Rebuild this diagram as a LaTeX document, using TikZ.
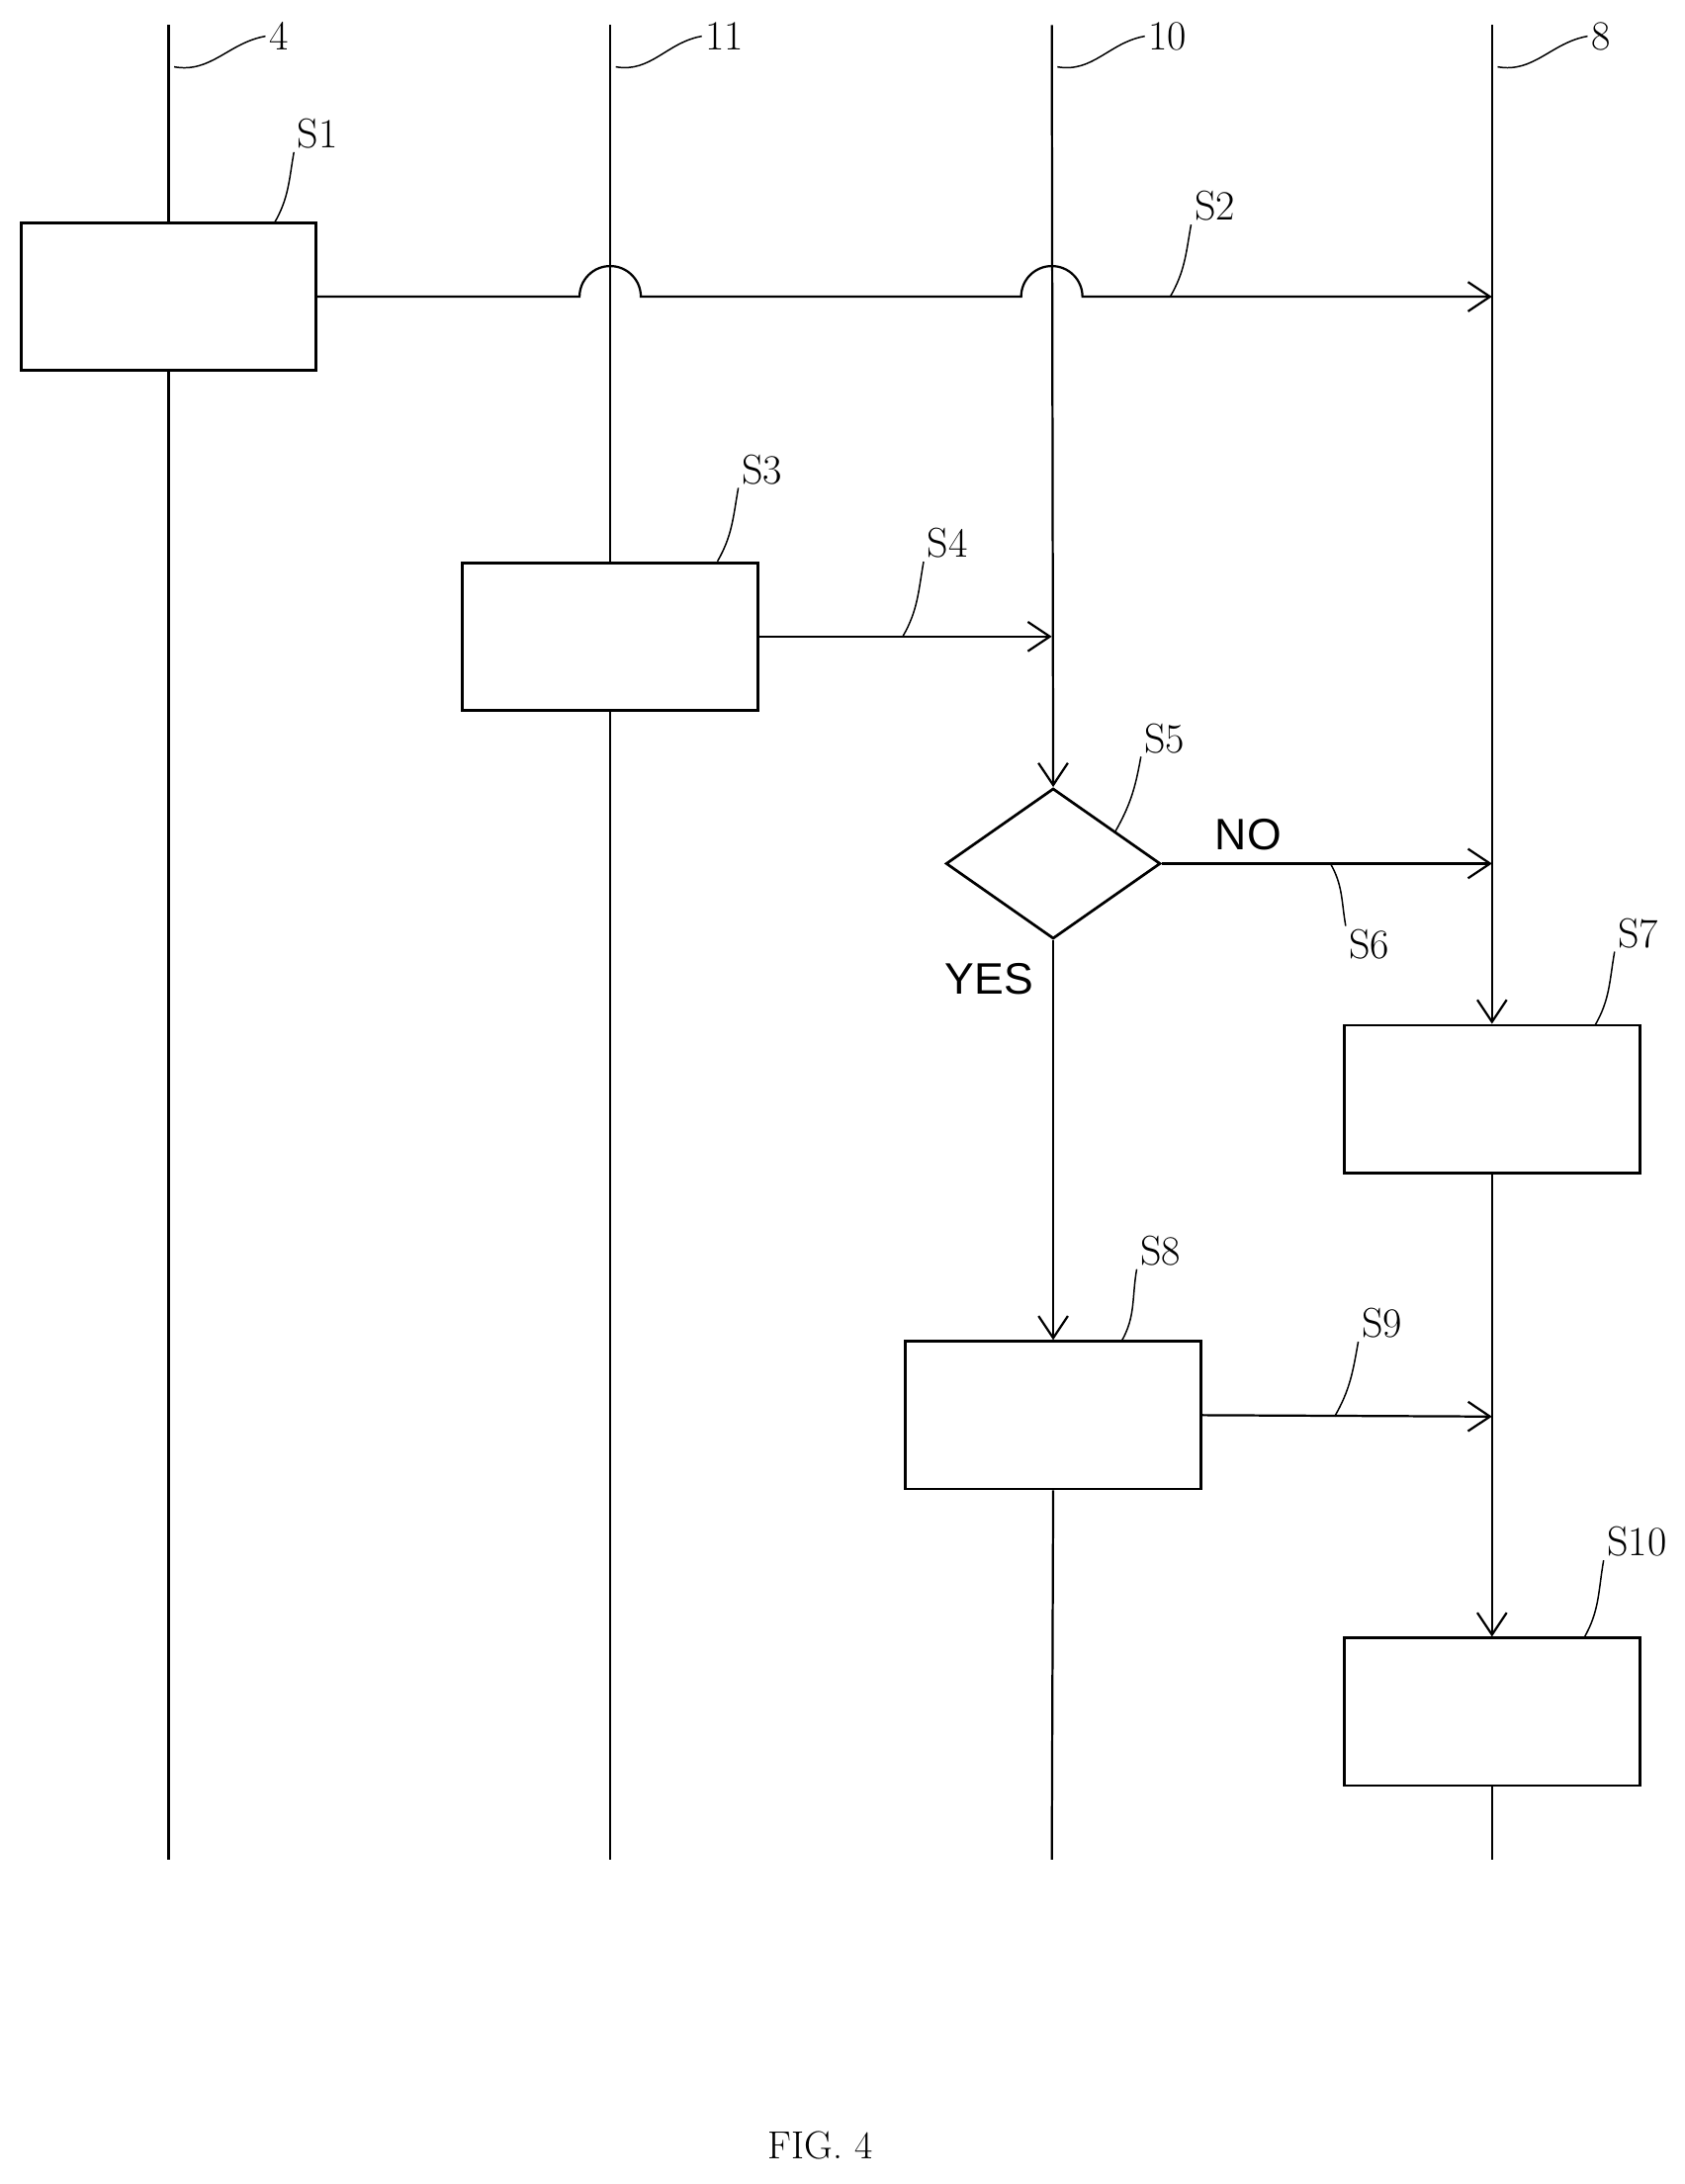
\documentclass[tikz,border=0pt]{standalone}
\usepackage{fontspec}
\newfontfamily\sansf{Liberation Sans}
\usetikzlibrary{arrows.meta,shapes.geometric}
\begin{document}
\begin{tikzpicture}[x=0.02cm,y=-0.02cm,
  line width=0.9pt,
  arr/.style={-{Straight Barb[length=9pt,width=12pt]}},
  box/.style={draw,fill=white,minimum width=4.24cm,minimum height=2.12cm,inner sep=0pt,line width=1.1pt},
  lbl/.style={font=\fontsize{17}{20}\selectfont,inner sep=1pt},
  lead/.style={line width=0.6pt}]
\useasboundingbox (0,0) rectangle (1209,1568);
% lanes
\coordinate (Atop) at (121,18); \coordinate (Abot) at (121,1335);
\coordinate (Btop) at (438,18); \coordinate (Bbot) at (438,1335);
\coordinate (Ctop) at (755,18); \coordinate (Cbot) at (755,1335);
\coordinate (Dtop) at (1071,18); \coordinate (Dbot) at (1071,1335);
\draw (Atop) -- (Abot);
\draw (Btop) -- (Bbot);
% boxes
\node[box] (s1) at (121,213) {};
\node[box] (s3) at (438,457) {};
\node[box,diamond,aspect=1.42,minimum width=3.08cm,minimum height=2.16cm] (s5) at (756,620) {};
\node[box] (s7) at (1071,789) {};
\node[box] (s8) at (756,1016) {};
\node[box] (s10) at (1071,1229) {};
% lane C and D
\draw[arr] (Ctop) -- (s5.north);
\draw[arr] (s5.south) -- (s8.north);
\draw (s8.south) -- (Cbot);
\draw[arr] (Dtop) -- (s7.north);
\draw[arr] (s7.south) -- (s10.north);
\draw (s10.south) -- (Dbot);
% arrows
\coordinate (s2e) at (1071,213);
\draw[arr] (s1.east) -- (416,213) arc[start angle=180,end angle=360,radius=22] -- (733,213) arc[start angle=180,end angle=360,radius=22] -- (s2e);
\coordinate (s4e) at (755,457);
\draw[arr] (s3.east) -- (s4e);
\coordinate (s6e) at (1071,620);
\draw[arr] (s5.east) -- (s6e);
\coordinate (s9e) at (1071,1017);
\draw[arr] (s8.east) -- (s9e);
% labels
\node[lbl] (l4) at (200,26) {4};
\node[lbl] (l11) at (520,26) {11};
\node[lbl] (l10) at (838,26) {10};
\node[lbl] (l8) at (1149,26) {8};
\node[lbl] (ls1) at (228,96) {S1};
\node[lbl] (ls2) at (872,148) {S2};
\node[lbl] (ls3) at (547,337) {S3};
\node[lbl] (ls4) at (680,390) {S4};
\node[lbl] (ls5) at (836,530) {S5};
\node[lbl] (ls6) at (983,678) {S6};
\node[lbl] (ls7) at (1176,670) {S7};
\node[lbl] (ls8) at (833,898) {S8};
\node[lbl] (ls9) at (992,950) {S9};
\node[lbl] (ls10) at (1175,1107) {S10};
\node[font=\sansf\fontsize{18}{20}\selectfont] (no) at (896,599) {NO};
\node[font=\sansf\fontsize{18}{20}\selectfont] (yes) at (710,703) {YES};
\node[font=\fontsize{16}{18}\selectfont] (fig) at (589,1540) {FIG. 4};
% leaders
\draw[lead] (125,48) to[out=-10,in=190] (l4.west);
\draw[lead] (442,48) to[out=-10,in=190] (l11.west);
\draw[lead] (759,48) to[out=-10,in=190] (l10.west);
\draw[lead] (1075,48) to[out=-10,in=190] (l8.west);
\draw[lead] (197,160) to[out=60,in=-100] (ls1.south west);
\draw[lead] (840,213) to[out=60,in=-100] (ls2.south west);
\draw[lead] (515,403) to[out=60,in=-100] (ls3.south west);
\draw[lead] (648,457) to[out=60,in=-100] (ls4.south west);
\draw[lead] (800,598) to[out=60,in=-100] (ls5.south west);
\draw[lead] (955,620) to[out=-60,in=100] (ls6.north west);
\draw[lead] (1145,736) to[out=60,in=-100] (ls7.south west);
\draw[lead] (805,963) to[out=60,in=-100] (ls8.south west);
\draw[lead] (958,1017) to[out=60,in=-100] (ls9.south west);
\draw[lead] (1137,1176) to[out=60,in=-100] (ls10.south west);
\end{tikzpicture}
\end{document}
